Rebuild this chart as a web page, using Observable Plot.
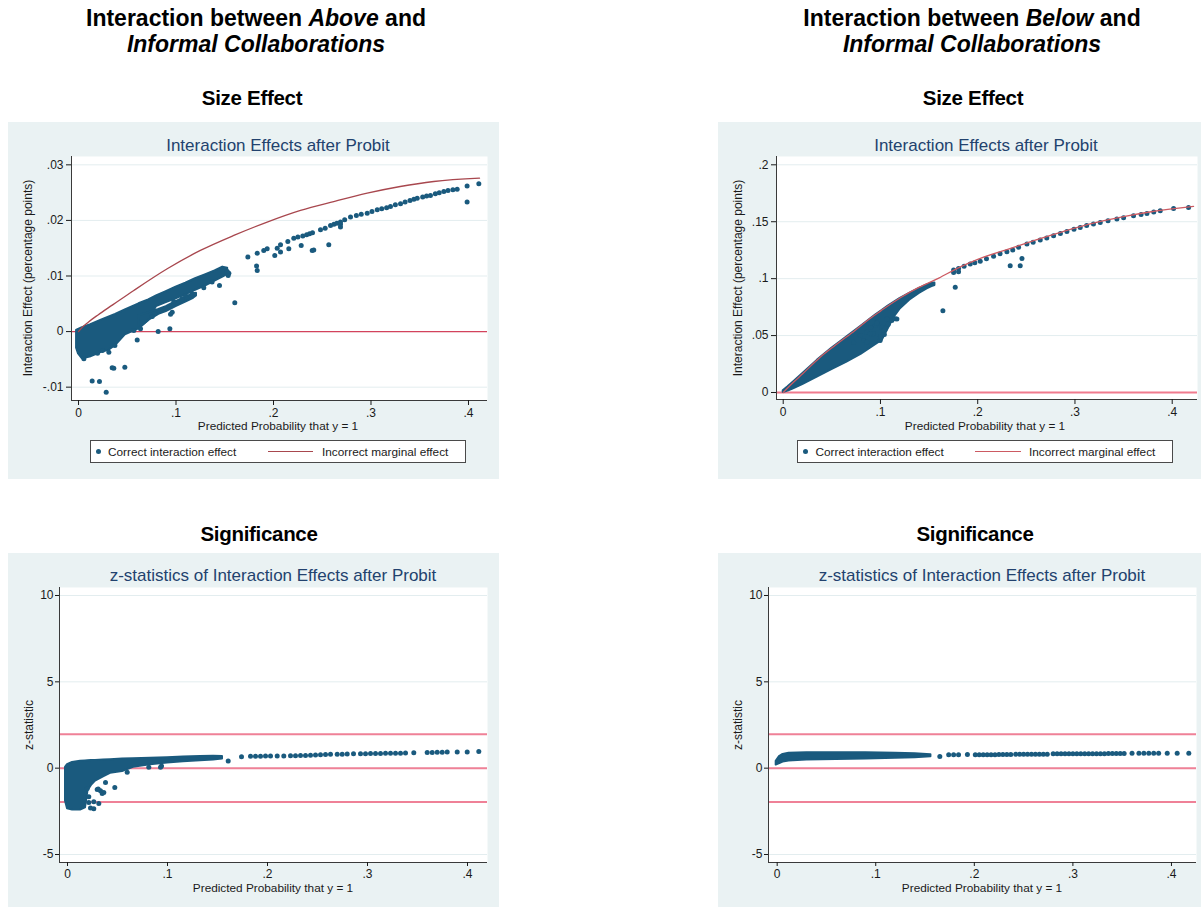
<!DOCTYPE html>
<html><head><meta charset="utf-8">
<script src="https://cdn.jsdelivr.net/npm/d3@7"></script>
<script src="https://cdn.jsdelivr.net/npm/@observablehq/plot@0.6"></script>
<style>
body{margin:0;background:#fff;font-family:"Liberation Sans",Arial,sans-serif;}
#page{position:relative;width:1201px;height:907px;overflow:hidden;background:#fff;}
.abs{position:absolute;white-space:nowrap;}
.pan{position:absolute;}
</style></head><body><div id="page"></div>
<script>
// ---------------- DATA ----------------
const xTicks = [0, 0.1, 0.2, 0.3, 0.4];
const tlYTicks = [-0.01, 0, 0.01, 0.02, 0.03];
const trYTicks = [0, 0.05, 0.1, 0.15, 0.2];
const zYTicks = [-5, 0, 5, 10];
const zRefLines = [1.96, 0, -1.96];

// Top-left: dense cloud envelope [x, low, high]
const tlBlob = [[-0.002,-0.0030,0.0002],[0,-0.0040,0.0004],[0.004,-0.0049,0.0007],[0.012,-0.0046,0.0012],[0.024,-0.0037,0.0021],[0.031,-0.0034,0.0026],[0.038,-0.0025,0.0031],[0.048,-0.0006,0.0039],[0.062,0.0005,0.0050],[0.072,0.0020,0.0057],[0.080,0.0045,0.0064],[0.090,0.0052,0.0072],[0.100,0.0059,0.0080],[0.110,0.0066,0.0087],[0.120,0.0074,0.0095],[0.130,0.0082,0.0102],[0.140,0.0091,0.0109],[0.148,0.0098,0.0116],[0.153,0.0103,0.0114]];
const tlBranch = [[0.062,0.0005,0.0028],[0.072,0.0020,0.0034],[0.0824,0.0031,0.0040],[0.090,0.0036,0.0045],[0.100,0.0045,0.0054],[0.110,0.0053,0.0062],[0.118,0.0060,0.0068],[0.121,0.0064,0.0069]];
const tlDots = [[0.0055,-0.0049],[0.014,-0.0089],[0.0215,-0.0090],[0.0284,-0.0109],[0.0345,-0.0065],[0.0362,-0.0066],[0.0475,-0.0064],[0.0311,-0.0037],[0.0245,-0.0034],[0.0195,-0.0039],[0.0373,-0.0025],[0.0602,-0.0015],[0.0567,0.0002],[0.0636,0.0005],[0.0817,0.0000],[0.0937,0.0005],[0.0783,0.0032],[0.0756,0.0027],[0.0944,0.0031],[0.0961,0.0035],[0.0977,0.0054],[0.1063,0.0059],[0.1097,0.0065],[0.1166,0.0068],[0.1285,0.0079],[0.137,0.0089],[0.1446,0.0083],[0.1535,0.0101],[0.1542,0.0105],[0.1525,0.0108],[0.1603,0.0052],
[0.1737,0.0134],[0.1833,0.0141],[0.1826,0.0118],[0.1833,0.0110],[0.190,0.0146],[0.1935,0.0149],[0.2013,0.0137],[0.2038,0.0150],[0.2072,0.0156],[0.2072,0.0143],[0.2147,0.0162],[0.2157,0.0149],[0.2208,0.0168],[0.2250,0.0170],[0.2284,0.0155],[0.2300,0.0172],[0.2340,0.0174],[0.2370,0.0176],[0.2400,0.0178],[0.2397,0.0146],[0.2413,0.0147],[0.2482,0.0183],[0.2530,0.0186],[0.2585,0.0191],[0.2567,0.0156],[0.2620,0.0193],[0.2650,0.0195],[0.2687,0.0197],[0.2687,0.0188],[0.2687,0.0193],[0.2730,0.0201],[0.2790,0.0206],[0.2850,0.0209],[0.2900,0.0211],[0.2961,0.0213],[0.3010,0.0216],[0.3064,0.0219],[0.3110,0.0221],[0.3160,0.0223],[0.3200,0.0225],[0.3250,0.0228],[0.3303,0.0230],[0.3350,0.0233],[0.3400,0.0236],[0.3440,0.0238],[0.3474,0.0240],[0.3530,0.0242],[0.3570,0.0244],[0.3610,0.0245],[0.3660,0.0248],[0.3700,0.0250],[0.3747,0.0252],[0.3790,0.0254],[0.3840,0.0255],[0.3884,0.0256],[0.3986,0.0262],[0.3986,0.0233],[0.4106,0.0266]];
const tlCurve = [[0,0],[0.004,0.0008],[0.010,0.0017],[0.020,0.0030],[0.035,0.0048],[0.0567,0.0074],[0.091,0.0113],[0.125,0.0146],[0.1593,0.0173],[0.1935,0.0197],[0.2277,0.0218],[0.2618,0.0234],[0.2961,0.0249],[0.330,0.0261],[0.3644,0.0270],[0.4113,0.0276]];

// Top-right
const trBlob = [[0,0,0.0015],[0.005,0.0012,0.0050],[0.010,0.0030,0.0088],[0.020,0.0070,0.0165],[0.035,0.0135,0.0282],[0.050,0.0200,0.0388],[0.065,0.0265,0.0485],[0.080,0.0335,0.0582],[0.095,0.0420,0.0680],[0.102,0.0460,0.0722],[0.108,0.0560,0.0760],[0.114,0.0660,0.0792],[0.120,0.0730,0.0825],[0.130,0.0810,0.0870],[0.140,0.0870,0.0915],[0.148,0.0910,0.0945],[0.153,0.0930,0.0960],[0.156,0.0940,0.0962]];
const trDots = [[0.0826,0.0456],[0.0860,0.0529],[0.0928,0.0515],[0.0946,0.0588],[0.0963,0.0617],[0.0963,0.0609],[0.0997,0.0456],[0.1015,0.0573],[0.1031,0.0544],[0.1049,0.0560],[0.1066,0.0646],[0.1117,0.0632],[0.1152,0.0647],[0.1169,0.0646],[0.0895,0.0515],[0.0792,0.0500],[0.0723,0.0442],[0.0860,0.0442],[0.1000,0.0490],[0.1040,0.0510],[0.1080,0.0600],[0.0900,0.0570],
[0.1642,0.0719],[0.1769,0.0924],[0.1752,0.1055],[0.1752,0.1076],[0.1803,0.1061],[0.1803,0.1090],[0.1860,0.1110],[0.1923,0.1129],[0.1970,0.1140],[0.2026,0.1152],[0.2090,0.1175],[0.2163,0.1196],[0.2230,0.1218],[0.2300,0.1237],[0.2334,0.1114],[0.2437,0.1114],[0.2455,0.1178],[0.2360,0.1252],[0.2420,0.1275],[0.2506,0.1304],[0.2570,0.1320],[0.2643,0.1339],[0.2710,0.1358],[0.2780,0.1377],[0.2850,0.1397],[0.2917,0.1415],[0.2990,0.1433],[0.3054,0.1450],[0.3120,0.1466],[0.3190,0.1480],[0.3260,0.1494],[0.3340,0.1509],[0.3431,0.1523],[0.3500,0.1536],[0.3602,0.1553],[0.3680,0.1563],[0.3740,0.1573],[0.3810,0.1585],[0.3877,0.1596],[0.4014,0.1617],[0.4168,0.1626]];
const trCurve = [[0,0],[0.010,0.0085],[0.020,0.0165],[0.038,0.0310],[0.052,0.0405],[0.070,0.0520],[0.090,0.0655],[0.100,0.0715],[0.120,0.0830],[0.140,0.0925],[0.160,0.1005],[0.180,0.1095],[0.200,0.1170],[0.230,0.1255],[0.260,0.1340],[0.290,0.1420],[0.320,0.1490],[0.350,0.1545],[0.380,0.1590],[0.4219,0.1635]];

// Bottom-left
const blBlob = [[-0.002,-1.9,0.05],[0,-2.35,0.20],[0.005,-2.42,0.33],[0.013,-2.42,0.40],[0.018,-2.30,0.42],[0.0205,-1.30,0.43],[0.024,-1.00,0.44],[0.028,-0.75,0.45],[0.036,-0.50,0.47],[0.043,-0.30,0.49],[0.055,-0.20,0.53],[0.066,0.05,0.55],[0.083,0.20,0.58],[0.100,0.30,0.61],[0.116,0.37,0.64],[0.133,0.43,0.67],[0.146,0.48,0.69],[0.155,0.53,0.68]];
const blDots = [[0.0597,-0.23],[0.0813,0.05],[0.093,0.05],[0.094,0.12],[0.1607,0.41],[0.0473,-1.12],[0.0297,-1.23],[0.0347,-1.47],[0.0363,-1.41],[0.038,-0.83],[0.033,-1.31],[0.0307,-1.21],[0.0213,-1.66],[0.0213,-1.99],[0.0263,-1.95],[0.0313,-2.05],[0.023,-2.30],[0.0263,-2.35],[0.0197,-1.18],
[0.174,0.66],[0.183,0.69],[0.188,0.69],[0.193,0.69],[0.198,0.70],[0.203,0.70],[0.2097,0.71],[0.2163,0.71],[0.223,0.72],[0.228,0.72],[0.233,0.73],[0.238,0.74],[0.243,0.75],[0.248,0.76],[0.253,0.78],[0.258,0.79],[0.263,0.80],[0.2697,0.80],[0.2747,0.81],[0.2797,0.82],[0.286,0.83],[0.293,0.84],[0.298,0.84],[0.303,0.85],[0.308,0.85],[0.313,0.85],[0.318,0.86],[0.323,0.86],[0.328,0.87],[0.333,0.87],[0.338,0.88],[0.3463,0.89],[0.3597,0.91],[0.3647,0.91],[0.3697,0.92],[0.3747,0.92],[0.3797,0.93],[0.3897,0.93],[0.3997,0.93],[0.4113,0.96]];

// Bottom-right
const brBlob = [[-0.001,0.18,0.40],[0.002,0.25,0.65],[0.006,0.35,0.80],[0.012,0.42,0.87],[0.030,0.47,0.90],[0.060,0.50,0.90],[0.090,0.53,0.89],[0.120,0.57,0.87],[0.140,0.61,0.84],[0.156,0.66,0.78]];
const brDots = [[0.165,0.68],[0.174,0.77],[0.179,0.77],[0.184,0.77],[0.193,0.79],[0.201,0.77],[0.205,0.77],[0.209,0.78],[0.213,0.78],[0.217,0.78],[0.221,0.78],[0.225,0.79],[0.229,0.79],[0.233,0.79],[0.237,0.79],[0.242,0.81],[0.246,0.81],[0.250,0.81],[0.254,0.81],[0.258,0.81],[0.262,0.81],[0.266,0.81],[0.270,0.81],[0.274,0.81],[0.280,0.83],[0.284,0.83],[0.288,0.83],[0.292,0.83],[0.296,0.83],[0.300,0.83],[0.304,0.83],[0.308,0.83],[0.312,0.84],[0.316,0.84],[0.320,0.84],[0.324,0.84],[0.328,0.84],[0.332,0.84],[0.336,0.85],[0.340,0.85],[0.344,0.85],[0.348,0.85],[0.352,0.85],[0.360,0.87],[0.367,0.87],[0.372,0.87],[0.377,0.87],[0.382,0.87],[0.387,0.87],[0.3957,0.87],[0.4058,0.87],[0.4176,0.87]];

// ---------------- STYLE ----------------
const FONT = '"Liberation Sans", Arial, sans-serif';
const BG = "#eaf2f3";
const DOT = "#1a5a7e";
const GRID = "#e3edef";
const AXIS = "#3a3a3a";
const TITLE = "#22426e";
const page = document.getElementById("page");
const fmt = d => d === 0 ? "0" : String(d).replace("0.", ".");

function panel(c) {
  const marks = [
    Plot.frame({fill: "white", stroke: "none"}),
    Plot.ruleY(c.yTicks, {stroke: GRID, strokeWidth: 1}),
    ...c.marks,
    Plot.ruleX([c.xDomain[0]], {stroke: AXIS, strokeWidth: 1}),
    Plot.ruleY([c.yDomain[0]], {stroke: AXIS, strokeWidth: 1}),
    Plot.axisY({ticks: c.yTicks, tickFormat: fmt, tickSize: c.tick, tickPadding: c.pad, label: null}),
    Plot.axisX({ticks: xTicks, tickFormat: fmt, tickSize: c.tick, tickPadding: 3, label: null})
  ];
  const svg = Plot.plot({
    width: c.w, height: c.h,
    marginLeft: c.ml, marginRight: c.mr, marginTop: c.mt, marginBottom: c.mb,
    style: {background: BG, fontFamily: FONT, fontSize: "12px", color: "#1a1a1a", overflow: "visible"},
    x: {domain: c.xDomain},
    y: {domain: c.yDomain},
    marks
  });
  const holder = document.createElement("div");
  holder.className = "pan";
  holder.style.left = c.left + "px";
  holder.style.top = c.top + "px";
  holder.appendChild(svg);
  page.appendChild(holder);
}

// centred text; baseline = baseline of the first line
function txt(html, x, baseline, o = {}) {
  const size = o.size || 12;
  const lh = o.lh || size;
  const d = document.createElement("div");
  d.className = "abs";
  d.innerHTML = html;
  Object.assign(d.style, {
    left: x + "px", top: (baseline - lh / 2 - 0.3465 * size) + "px",
    fontSize: size + "px", lineHeight: lh + "px", textAlign: "center",
    fontWeight: o.weight || "normal", color: o.color || "#1a1a1a",
    letterSpacing: (o.ls || 0) + "px", transform: "translateX(-50%)",
    fontFamily: FONT
  });
  page.appendChild(d);
}
function txtStart(str, x, baseline) {
  const size = 11.8;
  const d = document.createElement("div");
  d.className = "abs";
  d.textContent = str;
  Object.assign(d.style, {left: x + "px", top: (baseline - 0.8465 * size) + "px", fontSize: size + "px",
    lineHeight: size + "px", color: "#1a1a1a", fontFamily: FONT});
  page.appendChild(d);
}
function vtxt(str, cx, cy, size) {
  const d = document.createElement("div");
  d.className = "abs";
  d.textContent = str;
  Object.assign(d.style, {left: cx + "px", top: cy + "px", fontSize: size + "px", lineHeight: size + "px",
    color: "#1a1a1a", transform: "translate(-50%,-50%) rotate(-90deg)", fontFamily: FONT});
  page.appendChild(d);
}
function box(x, y, w, h, css) {
  const d = document.createElement("div");
  d.className = "abs";
  Object.assign(d.style, {left: x + "px", top: y + "px", width: w + "px", height: h + "px", boxSizing: "border-box"}, css);
  page.appendChild(d);
}
function legend(x1, x2, dotX, t1X, l1, l2, t2X, lineColor) {
  box(x1, 440, x2 - x1, 22.5, {border: "1px solid #4a4a4a", background: "#fff"});
  box(dotX - 2.5, 448.5, 5, 5, {borderRadius: "50%", background: DOT});
  box(l1, 450.5, l2 - l1, 1.4, {background: lineColor});
  txtStart("Correct interaction effect", t1X, 456.5);
  txtStart("Incorrect marginal effect", t2X, 456.5);
}

const dotOpts = {x: d => d[0], y: d => d[1], r: 2.5, fill: DOT};
const areaOpts = {x: d => d[0], y1: d => d[1], y2: d => d[2], fill: DOT, stroke: DOT, strokeWidth: 2, strokeLinejoin: "round"};
const lineOpts = (col, w) => ({x: d => d[0], y: d => d[1], stroke: col, strokeWidth: w, curve: "monotone-x"});

// ---------------- PANELS ----------------
panel({left: 8, top: 122, w: 491, h: 357, ml: 63, mr: 12, mt: 34, mb: 79, tick: 5, pad: 3,
  xDomain: [-0.0072, 0.4195], yDomain: [-0.0124, 0.0315], yTicks: tlYTicks,
  marks: [
    Plot.ruleY([0], {stroke: "#d3435c", strokeWidth: 1.3}),
    Plot.areaY(tlBlob, areaOpts),
    Plot.areaY(tlBranch, areaOpts),
    Plot.dot(tlDots, dotOpts),
    Plot.line(tlCurve, lineOpts("#a8474e", 1.3))
  ]});

panel({left: 718, top: 122, w: 483, h: 357, ml: 58, mr: 4, mt: 34, mb: 80, tick: 5, pad: 3,
  xDomain: [-0.0069, 0.426], yDomain: [-0.00615, 0.2073], yTicks: trYTicks,
  marks: [
    Plot.ruleY([0], {stroke: "#f07b8e", strokeWidth: 2}),
    Plot.areaY(trBlob, areaOpts),
    Plot.dot(trDots, dotOpts),
    Plot.line(trCurve, lineOpts("#cc5a62", 1.3))
  ]});

panel({left: 8, top: 553, w: 491, h: 354, ml: 51, mr: 12, mt: 34, mb: 45, tick: 4, pad: 2,
  xDomain: [-0.008, 0.42], yDomain: [-5.463, 10.463], yTicks: zYTicks,
  marks: [
    Plot.ruleY(zRefLines, {stroke: "#ef8197", strokeWidth: 2}),
    Plot.areaY(blBlob, areaOpts),
    Plot.dot(blDots, dotOpts)
  ]});

panel({left: 718, top: 553, w: 483, h: 354, ml: 50, mr: 5, mt: 34, mb: 45, tick: 4, pad: 2,
  xDomain: [-0.0088, 0.4254], yDomain: [-5.463, 10.463], yTicks: zYTicks,
  marks: [
    Plot.ruleY(zRefLines, {stroke: "#ef8197", strokeWidth: 2}),
    Plot.areaY(brBlob, areaOpts),
    Plot.dot(brDots, dotOpts)
  ]});

// ---------------- TEXT ----------------
const H = {size: 23, lh: 26, weight: "bold", color: "#000", ls: 0};
txt("Interaction between <i>Above</i> and<br><i>Informal Collaborations</i>", 256, 25.5, H);
txt("Interaction between <i>Below</i> and<br><i>Informal Collaborations</i>", 972, 25.5, H);
const S = {size: 20.5, weight: "bold", color: "#000", ls: -0.3};
txt("Size Effect", 252, 105, S);
txt("Size Effect", 973, 105, S);
txt("Significance", 259, 541, S);
txt("Significance", 975, 541, S);

const T = {size: 17, color: TITLE};
txt("Interaction Effects after Probit", 278, 151, T);
txt("Interaction Effects after Probit", 986, 151, T);
txt("z-statistics of Interaction Effects after Probit", 273, 581, T);
txt("z-statistics of Interaction Effects after Probit", 982, 581, T);

const L = {size: 11.8};
txt("Predicted Probability that y = 1", 278, 430.5, L);
txt("Predicted Probability that y = 1", 985, 430.5, L);
txt("Predicted Probability that y = 1", 273, 893, L);
txt("Predicted Probability that y = 1", 982, 893, L);

vtxt("Interaction Effect (percentage points)", 28, 278, 12);
vtxt("Interaction Effect (percentage points)", 738, 278, 12);
vtxt("z-statistic", 29, 725, 12);
vtxt("z-statistic", 738, 725, 12);

legend(90, 466, 98.3, 108, 268, 313, 322, "#a8474e");
legend(797, 1173, 805.7, 815.5, 975, 1021, 1029, "#cc5a62");
</script></body></html>
